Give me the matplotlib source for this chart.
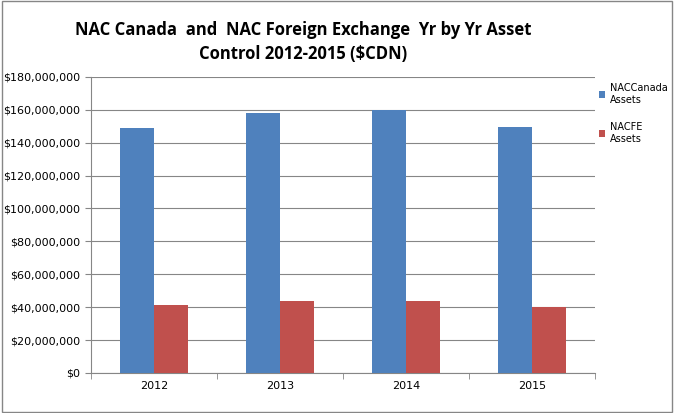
import matplotlib.pyplot as plt
import numpy as np
from matplotlib.ticker import FuncFormatter

years = ["2012", "2013", "2014", "2015"]
nac_canada = [149000000, 158000000, 160000000, 149500000]
nac_fe = [41000000, 43500000, 44000000, 40000000]

fig = plt.figure(figsize=(6.74, 4.13), dpi=100)
ax = fig.add_axes([0.135, 0.097, 0.748, 0.717])

x = np.arange(len(years))
w = 0.27
ax.bar(x - w / 2, nac_canada, w, color="#4F81BD", label="NACCanada\nAssets", zorder=3)
ax.bar(x + w / 2, nac_fe, w, color="#C0504D", label="NACFE\nAssets", zorder=3)

ax.set_xlim(-0.5, len(years) - 0.5)
ax.set_ylim(0, 180000000)
ax.set_yticks(np.arange(0, 180000001, 20000000))
ax.yaxis.set_major_formatter(FuncFormatter(lambda v, p: "${:,.0f}".format(v)))
ax.set_xticks(x)
ax.set_xticklabels(years)
ax.set_xticks(np.arange(-0.5, len(years)), minor=True)
ax.tick_params(axis="x", which="major", length=0, labelsize=8, pad=6)
ax.tick_params(axis="x", which="minor", length=4, color="#868686")
ax.tick_params(axis="y", labelsize=8, length=4, color="#868686")
ax.grid(axis="y", color="#868686", linewidth=0.8, zorder=0)
for s in ["top", "right"]:
    ax.spines[s].set_visible(False)
for s in ["left", "bottom"]:
    ax.spines[s].set_color("#868686")

fig.text(0.45, 0.95, "NAC Canada  and  NAC Foreign Exchange  Yr by Yr Asset\nControl 2012-2015 ($CDN)",
         ha="center", va="top", fontsize=12, fontweight="bold", linespacing=1.45,
         family="Open Sans")

fig.legend(loc="upper left", bbox_to_anchor=(0.875, 0.82), frameon=False, fontsize=7,
           handlelength=0.7, handleheight=0.7, labelspacing=1.8, handletextpad=0.5)

fig.patches.append(plt.Rectangle((0.003, 0.003), 0.994, 0.994, transform=fig.transFigure,
                                 fill=False, edgecolor="#868686", linewidth=1))

fig.savefig("out.png", dpi=100)
